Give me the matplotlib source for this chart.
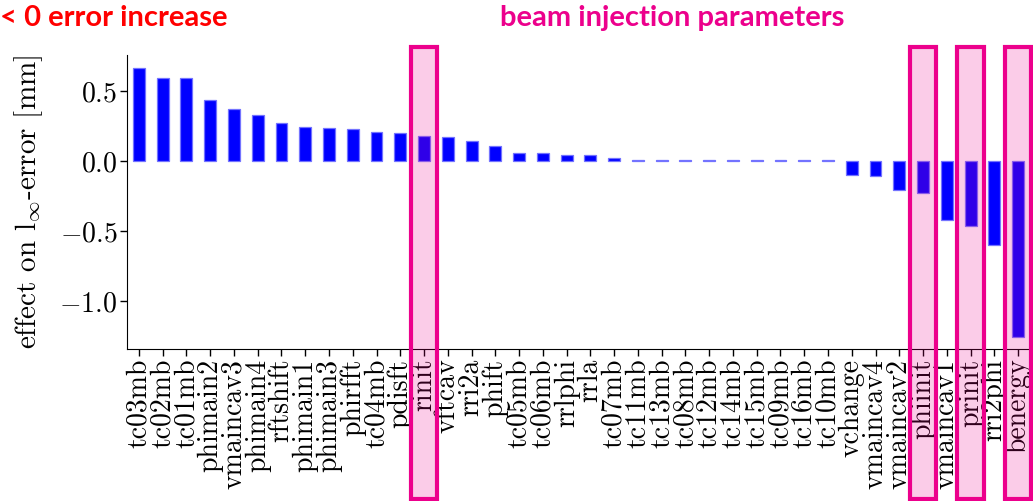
import matplotlib
matplotlib.use("Agg")
import matplotlib.pyplot as plt
from matplotlib.patches import Rectangle
from matplotlib.transforms import blended_transform_factory

labels = ["tc03mb", "tc02mb", "tc01mb", "phimain2", "vmaincav3", "phimain4", "rftshift",
          "phimain1", "phimain3", "phirfft", "tc04mb", "pdisft", "rinit", "vftcav", "rri2a",
          "phift", "tc05mb", "tc06mb", "rrlphi", "rrla", "tc07mb", "tc11mb", "tc13mb",
          "tc08mb", "tc12mb", "tc14mb", "tc15mb", "tc09mb", "tc16mb", "tc10mb", "vchange",
          "vmaincav4", "vmaincav2", "phiinit", "vmaincav1", "prinit", "rri2phi", "benergy"]
values = [0.662, 0.592, 0.592, 0.436, 0.371, 0.326, 0.271,
          0.243, 0.236, 0.226, 0.207, 0.198, 0.176, 0.169, 0.14,
          0.11, 0.058, 0.054, 0.045, 0.04, 0.022, 0.01, 0.004,
          0.004, 0.004, 0.004, 0.004, 0.004, 0.004, 0.004, -0.097,
          -0.11, -0.205, -0.228, -0.42, -0.463, -0.603, -1.254]
highlighted = ["rinit", "phiinit", "prinit", "benergy"]
yticks = [-1.0, -0.5, 0.0, 0.5]

plt.rcParams['font.family'] = 'cmr10'
plt.rcParams['mathtext.fontset'] = 'cm'
plt.rcParams['axes.formatter.use_mathtext'] = True

fig = plt.figure(figsize=(10.33, 5.01), dpi=100)
ax = fig.add_axes([127/1033, 1-349/501, (1030-127)/1033, (349-55)/501])

x = list(range(len(labels)))
ax.bar(x, values, width=0.5, color='#0000ff', edgecolor=(0.45, 0.45, 1.0), linewidth=0.9)
ax.set_xlim(-0.5, len(labels) - 0.5)
ax.set_ylim(-1.343, 0.757)
ax.set_xticks(x)
ax.set_xticklabels(labels, rotation=90, fontsize=20)
ax.set_yticks(yticks)
ax.set_yticklabels([f"${v:.1f}$" for v in yticks], fontsize=20)
ax.set_ylabel(r"effect on $\mathrm{l}_\infty$-error [mm]", fontsize=21, labelpad=10)
for s in ['top', 'right']:
    ax.spines[s].set_visible(False)
ax.tick_params(axis='both', length=5, width=1, pad=2)

trans = blended_transform_factory(ax.transData, fig.transFigure)
for name in highlighted:
    i = labels.index(name)
    r = Rectangle((i - 0.56, 1 - 499/501), 1.12, (499-47)/501, transform=trans,
                  facecolor=(236/255, 0, 140/255, 0.2), edgecolor='#ec008c',
                  linewidth=3, clip_on=False, zorder=10)
    fig.add_artist(r)

fig.text(228/1033, 1 - 18/501, "< 0 error increase", color='#ff0000', fontsize=21,
         fontweight='bold', family='Lato', ha='right', va='center')
fig.text(672/1033, 1 - 18/501, "beam injection parameters", color='#ec008c', fontsize=21,
         fontweight='bold', family='Lato', ha='center', va='center')

fig.savefig("out.png", dpi=100)
